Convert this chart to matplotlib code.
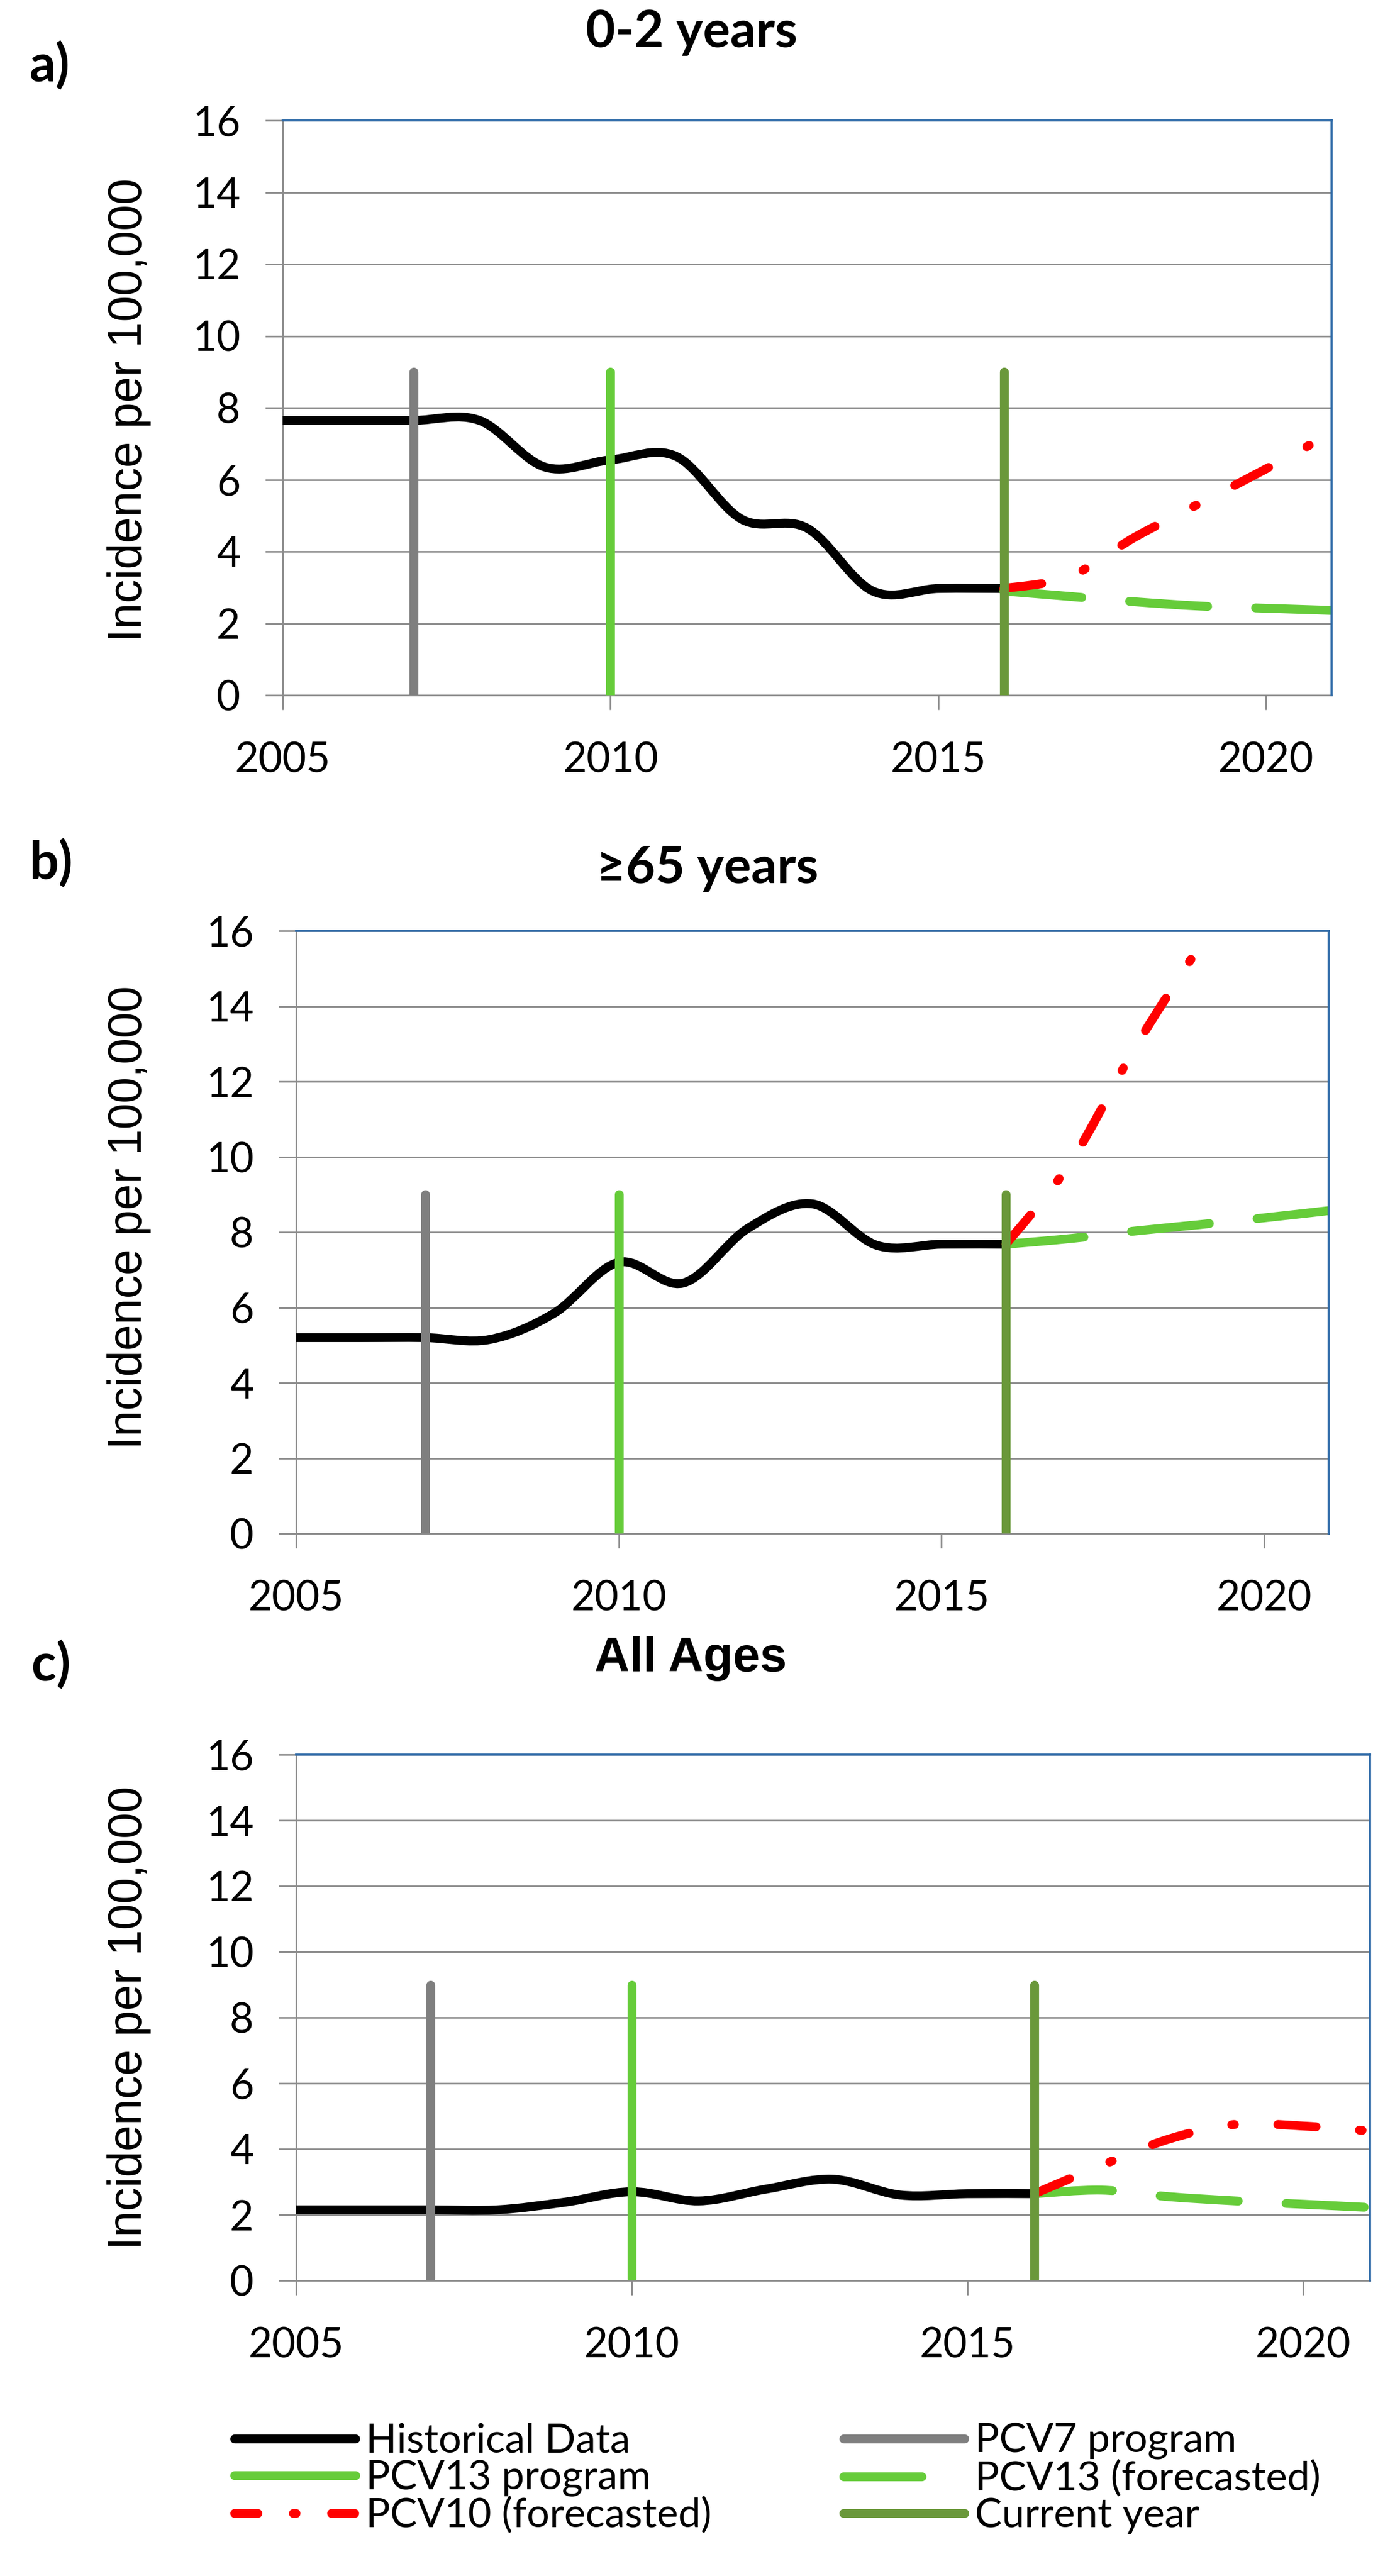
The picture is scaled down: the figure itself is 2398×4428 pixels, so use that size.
import numpy as np
import matplotlib
matplotlib.use("Agg")
import matplotlib.pyplot as plt
from matplotlib.path import Path
from matplotlib.patches import PathPatch
from matplotlib.lines import Line2D

# ---------------- data ----------------
hist_years = [2005, 2006, 2007, 2008, 2009, 2010, 2011, 2012, 2013, 2014, 2015, 2016]
hist_a = [7.65, 7.65, 7.65, 7.65, 6.35, 6.55, 6.65, 4.9, 4.65, 2.9, 2.97, 2.97]
hist_b = [5.2, 5.2, 5.2, 5.15, 5.85, 7.2, 6.65, 8.1, 8.75, 7.65, 7.68, 7.68]
hist_c = [2.15, 2.15, 2.15, 2.15, 2.38, 2.7, 2.42, 2.78, 3.08, 2.6, 2.64, 2.64]

fc_years = [2016, 2017, 2018, 2019, 2020, 2021]
pcv13_a = [2.9, 2.75, 2.6, 2.48, 2.42, 2.36]
pcv10_a = [2.97, 3.3, 4.4, 5.35, 6.3, 7.3]
pcv13_b = [7.68, 7.83, 8.03, 8.2, 8.38, 8.57]
pcv10_b = [7.68, 9.85, 12.9, 15.6, 18.3, 21.0]
pcv13_c = [2.64, 2.75, 2.55, 2.42, 2.32, 2.22]
pcv10_c = [2.64, 3.5, 4.3, 4.75, 4.7, 4.55]

pcv7_year = 2007
pcv13_year = 2010
current_year = 2016
program_line_top = 9

titles = ["0-2 years", "\u226565 years", "All Ages"]
panel_letters = ["a)", "b)", "c)"]
ylabel = "Incidence per 100,000"
yticks = [0, 2, 4, 6, 8, 10, 12, 14, 16]
xticks = [2005, 2010, 2015, 2020]
xlim = (2005, 2021)
ylim = (0, 16)
legend_labels = ["Historical Data", "PCV13 program", "PCV10 (forecasted)",
                 "PCV7 program", "PCV13 (forecasted)", "Current year"]

# ---------------- style ----------------
W, H = 2398, 4428
DPI = 100
C_BLACK = "#000000"
C_GRAY = "#7F7F7F"
C_LGREEN = "#66CC3A"
C_OLIVE = "#6A983A"
C_RED = "#FF0000"
C_GRID = "#8C8C8C"
C_BLUE = "#2E6AA8"
LW = 11
DASH_PCV13 = (0, (8.8, 5.4))
DASH_PCV10 = (0, (4.3, 4.9, 0.3, 4.9))
DASH_PCV10_LEG = (0, (2.6, 4.0, 0.3, 4.0))

TICK_FONT = ["Lato", "DejaVu Sans"]
TITLE_FONT = ["Lato", "DejaVu Sans"]


def smooth_path(xs, ys):
    pts = np.column_stack([xs, ys]).astype(float)
    n = len(pts)
    verts = [pts[0]]
    codes = [Path.MOVETO]
    for i in range(n - 1):
        p0 = pts[i - 1] if i > 0 else pts[i]
        p1 = pts[i]
        p2 = pts[i + 1]
        p3 = pts[i + 2] if i + 2 < n else pts[i + 1]
        c1 = p1 + (p2 - p0) / 6.0
        c2 = p2 - (p3 - p1) / 6.0
        verts += [c1, c2, p2]
        codes += [Path.CURVE4] * 3
    return Path(verts, codes)


def add_curve(ax, xs, ys, color, ls="solid", z=3):
    patch = PathPatch(smooth_path(xs, ys), facecolor="none", edgecolor=color,
                      lw=LW, linestyle=ls, zorder=z)
    patch.set_capstyle("round")
    patch.set_joinstyle("round")
    ax.add_patch(patch)


fig = plt.figure(figsize=(W / DPI, H / DPI), dpi=DPI)
fig.patch.set_facecolor("white")


def px_rect(left, top, right, bottom):
    return [left / W, 1 - bottom / H, (right - left) / W, (bottom - top) / H]


panel_rects = [px_rect(486, 207, 2289, 1195),
               px_rect(509, 1600, 2284, 2636),
               px_rect(509, 3016, 2355, 3920)]
hist_sets = [hist_a, hist_b, hist_c]
pcv13_sets = [pcv13_a, pcv13_b, pcv13_c]
pcv10_sets = [pcv10_a, pcv10_b, pcv10_c]
title_pos = [(1189, 56), (1216, 1493), (1187, 2851)]
title_fonts = [TITLE_FONT, TITLE_FONT, ["Liberation Sans", "DejaVu Sans"]]
title_sizes = [63, 63, 60]
letter_pos = [(86, 113), (88, 1484), (88, 2862)]
ylabel_pos = [(222, 705), (222, 2093), (222, 3469)]

for k in range(3):
    ax = fig.add_axes(panel_rects[k])
    ax.set_xlim(*xlim)
    ax.set_ylim(*ylim)
    ax.set_xticks(xticks)
    ax.set_yticks(yticks)
    ax.set_xticklabels([str(v) for v in xticks], family=TICK_FONT, fontsize=51)
    ax.set_yticklabels([str(v) for v in yticks], family=TICK_FONT, fontsize=51)
    ax.tick_params(axis="x", direction="out", length=18, width=2, color=C_GRID, pad=39)
    ax.tick_params(axis="y", direction="out", length=21.6, width=2, color=C_GRID, pad=31)
    ax.yaxis.grid(True, color=C_GRID, lw=2)
    ax.set_axisbelow(True)
    for side in ["left", "bottom"]:
        ax.spines[side].set_color(C_GRID)
        ax.spines[side].set_linewidth(2)
    for side in ["top", "right"]:
        ax.spines[side].set_color(C_BLUE)
        ax.spines[side].set_linewidth(2.6)
        ax.spines[side].set_zorder(6)

    add_curve(ax, hist_years, hist_sets[k], C_BLACK, "solid", 3)
    add_curve(ax, fc_years, pcv13_sets[k], C_LGREEN, DASH_PCV13, 4)
    add_curve(ax, fc_years, pcv10_sets[k], C_RED, DASH_PCV10, 4.5)

    for yr, col in [(pcv7_year, C_GRAY), (pcv13_year, C_LGREEN), (current_year, C_OLIVE)]:
        ax.plot([yr, yr], [0, program_line_top], color=col, lw=LW,
                solid_capstyle="round", zorder=5)

    fig.text(title_pos[k][0] / W, 1 - title_pos[k][1] / H, titles[k],
             family=title_fonts[k], fontweight="bold", fontsize=title_sizes[k],
             ha="center", va="center")
    fig.text(letter_pos[k][0] / W, 1 - letter_pos[k][1] / H, panel_letters[k],
             family=TITLE_FONT, fontweight="bold", fontsize=64,
             ha="center", va="center")
    fig.text(ylabel_pos[k][0] / W, 1 - ylabel_pos[k][1] / H, ylabel,
             family=["Liberation Sans", "DejaVu Sans"], fontsize=58,
             rotation=90, ha="center", va="center")

# ---------------- legend ----------------
h_hist = Line2D([], [], color=C_BLACK, lw=LW, solid_capstyle="round")
h_p13 = Line2D([], [], color=C_LGREEN, lw=LW, solid_capstyle="round")
h_p10 = Line2D([], [], color=C_RED, lw=LW, linestyle=DASH_PCV10_LEG, dash_capstyle="round")
h_p7 = Line2D([], [], color=C_GRAY, lw=LW, solid_capstyle="round")
h_p13f = Line2D([], [], color=C_LGREEN, lw=LW, linestyle=DASH_PCV13, dash_capstyle="round")
h_cur = Line2D([], [], color=C_OLIVE, lw=LW, solid_capstyle="round")

leg_kw = dict(loc="upper left", frameon=False, prop={"family": TICK_FONT, "size": 50},
              handlelength=3.0, handletextpad=0.25, labelspacing=0.0, borderpad=0,
              borderaxespad=0)
leg1 = fig.legend([h_hist, h_p13, h_p10], legend_labels[:3],
                  bbox_to_anchor=(403 / W, 1 - 4165 / H), **leg_kw)
leg2 = fig.legend([h_p7, h_p13f, h_cur], legend_labels[3:],
                  bbox_to_anchor=(1450 / W, 1 - 4165 / H), **leg_kw)

fig.savefig("out.png", dpi=DPI, facecolor="white")
